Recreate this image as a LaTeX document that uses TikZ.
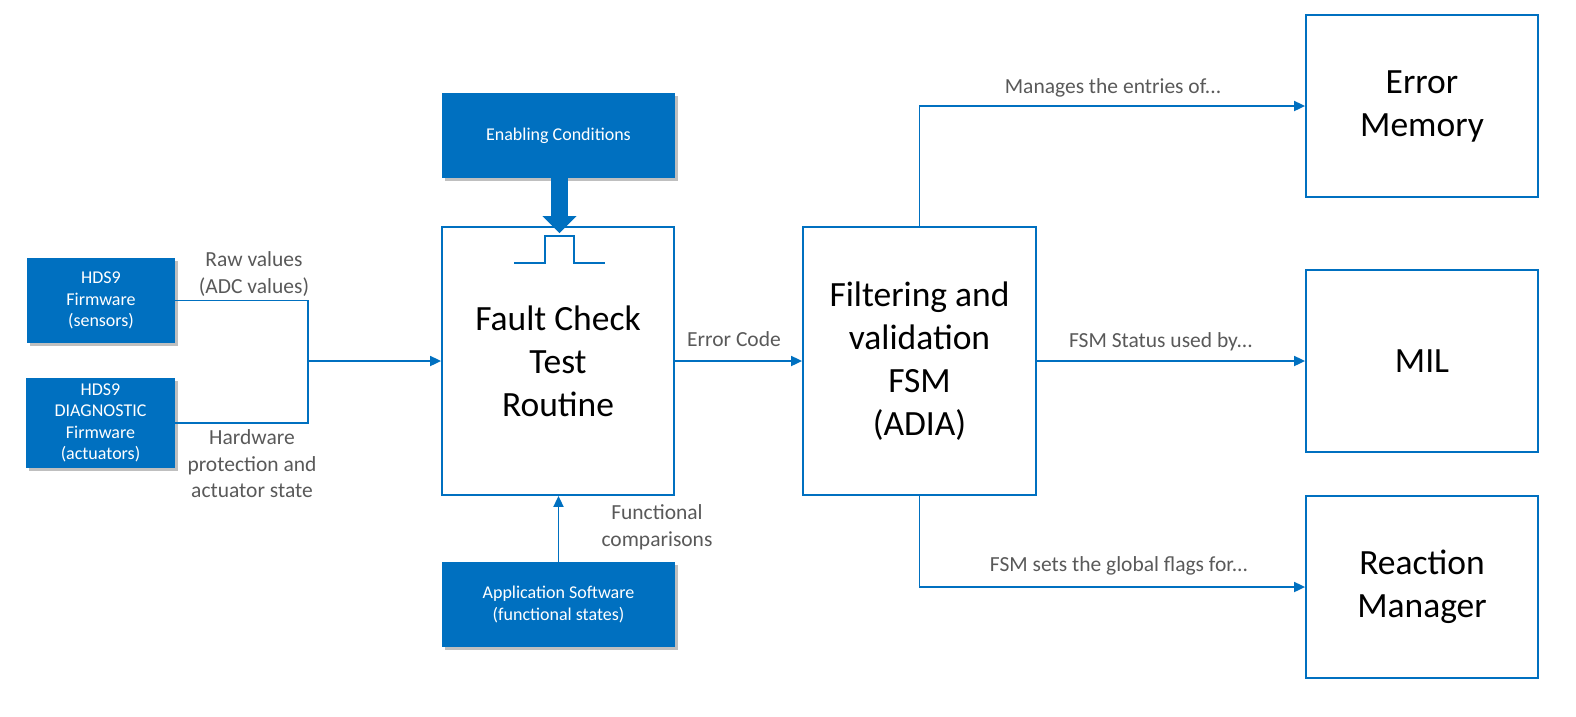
\documentclass[tikz,border=0pt]{standalone}
\usepackage{fontspec}
\setmainfont{Carlito}
\usetikzlibrary{arrows.meta,shadows,positioning,calc}
\definecolor{mblue}{HTML}{0070C0}
\definecolor{lgray}{HTML}{595959}
\tikzset{
  bluebox/.style={draw=none, fill=mblue, text=white, align=center, inner sep=0pt,
    font=\fontsize{18}{21.5}\selectfont,
    drop shadow={shadow xshift=3pt, shadow yshift=-3pt, opacity=0.25, fill=black}},
  bigbox/.style={draw=mblue, line width=1.8pt, fill=white, align=center, inner sep=0pt,
    font=\fontsize{35.5}{43}\selectfont, text=black},
  conn/.style={draw=mblue, line width=1.8pt},
  arr/.style={conn, -{Triangle[length=11pt,width=10pt]}},
  elabel/.style={text=lgray, align=center, inner sep=0pt, font=\fontsize{21.5}{26.5}\selectfont},
}
\begin{document}
\begin{tikzpicture}[x=1pt,y=-1pt]
\useasboundingbox (0,0) rectangle (1576,716);
% blue source boxes
\node[bluebox, minimum width=148pt, minimum height=85pt] (fw) at (101,300.5) {HDS9\\Firmware\\(sensors)};
\node[bluebox, minimum width=149pt, minimum height=90pt] (diag) at (100.5,423) {HDS9\\DIAGNOSTIC\\Firmware\\(actuators)};
\node[bluebox, minimum width=233pt, minimum height=85pt] (en) at (558.5,135.5) {Enabling Conditions};
\node[bluebox, minimum width=233pt, minimum height=85pt] (app) at (558.5,604.5) {Application Software\\(functional states)};
% main boxes
\node[bigbox, minimum width=232pt, minimum height=268pt] (fc) at (558,361) {Fault Check\\Test\\Routine};
\node[bigbox, minimum width=233pt, minimum height=268pt] (fsm) at (919.5,361) {Filtering and\\validation\\FSM\\(ADIA)};
\node[bigbox, minimum width=232pt, minimum height=182pt] (em) at (1422,106) {Error\\Memory};
\node[bigbox, minimum width=232pt, minimum height=182pt] (mil) at (1422,361) {MIL};
\node[bigbox, minimum width=232pt, minimum height=182pt] (rm) at (1422,587) {Reaction\\Manager};
% pulse symbol
\draw[mblue, line width=1.5pt] ($(fc.north)+(-44,37)$) -- ++(31,0) -- ++(0,-27) -- ++(29,0) -- ++(0,27) -- ++(31,0);
% enabling arrow
\draw[mblue, line width=17pt, -{Triangle[length=17pt,width=33pt]}, shorten >=-7pt] ([xshift=1pt]en.south) -- ([xshift=1pt]en.south |- fc.north);
% left connectors
\coordinate (j) at (308,361);
\draw[conn] (fw.east) -| (j);
\draw[conn] (diag.east) -| (j);
\draw[arr] (j) -- (fc.west);
\node[elabel] (l1) at (254,274) {Raw values\\(ADC values)};
\node[elabel] (l2) at (252,464) {Hardware\\protection and\\actuator state};
% application
\draw[arr] (app.north) -- (app.north |- fc.south);
\node[elabel] (l3) at (657,527.5) {Functional\\comparisons};
% error code
\draw[arr] (fc.east) -- (fsm.west);
\node[elabel] (l4) at (734,339) {Error Code};
% right connectors
\draw[arr] (fsm.north) |- (em.west);
\node[elabel] (l5) at (1113,88) {Manages the entries of...};
\draw[arr] (fsm.east) -- (mil.west);
\node[elabel] (l6) at (1161,342) {FSM Status used by...};
\draw[arr] (fsm.south) |- (rm.west);
\node[elabel] (l7) at (1119,566) {FSM sets the global flags for...};
\end{tikzpicture}
\end{document}
